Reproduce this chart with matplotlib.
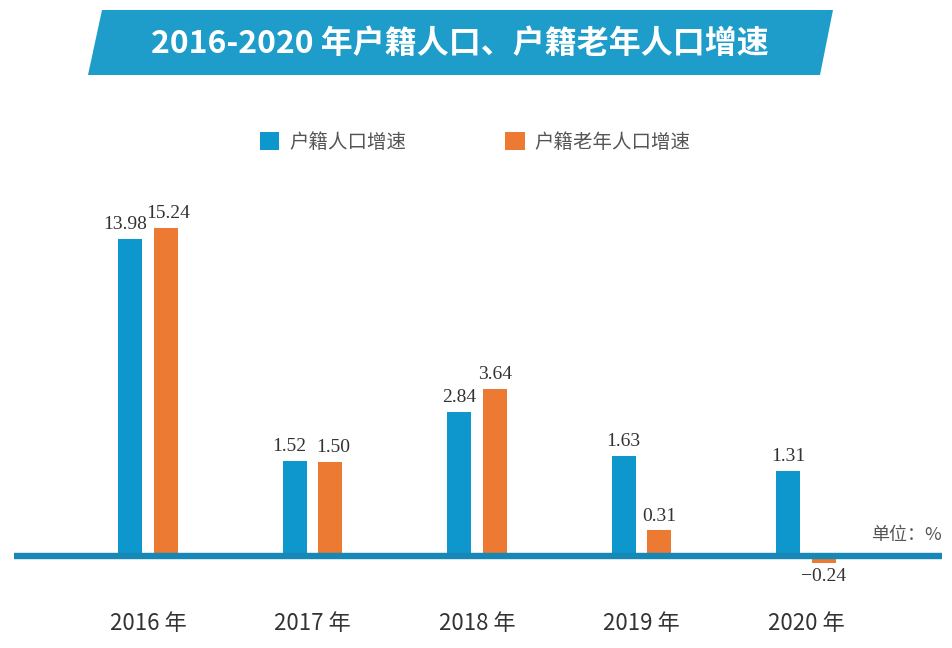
import numpy as np
import matplotlib
matplotlib.use("Agg")
import matplotlib.pyplot as plt
from matplotlib.patches import Polygon

plt.rcParams['font.family'] = ['Noto Sans CJK SC', 'DejaVu Sans']

# data
years = ["2016 年", "2017 年", "2018 年", "2019 年", "2020 年"]
hukou_growth = [13.98, 1.52, 2.84, 1.63, 1.31]
elderly_growth = [15.24, 1.50, 3.64, 0.31, -0.24]
series_names = ["户籍人口增速", "户籍老年人口增速"]
title = "2016-2020 年户籍人口、户籍老年人口增速"

BLUE = "#0E97CC"
ORANGE = "#EC7A32"
BANNER = "#1E9DCB"
BASE = "#1787B5"

W, H = 953, 648
fig = plt.figure(figsize=(W / 100, H / 100), dpi=100)


# the infographic is not drawn to a linear scale: compress large values
def fwd(v):
    v = np.asarray(v, dtype=float)
    return np.where(v >= 0, np.log1p(np.abs(v) / 1.5), 0.2 * v)


def inv(t):
    t = np.asarray(t, dtype=float)
    return np.where(t >= 0, 1.5 * np.expm1(np.abs(t)), t / 0.2)


# axes placement in pixels
left_px, right_px = 14, 942
top_px, bot_px = 180, 600
base_px = 556
px_per_unit = 136.0
ax = fig.add_axes([left_px / W, 1 - bot_px / H,
                   (right_px - left_px) / W, (bot_px - top_px) / H])
ax.set_yscale('function', functions=(fwd, inv))
ax.set_ylim(float(inv(-(bot_px - base_px) / px_per_unit)),
            float(inv((base_px - top_px) / px_per_unit)))

spacing = 164.5
ax.set_xlim((left_px - 148) / spacing, (right_px - 148) / spacing)

x = np.arange(len(years))
bw = 24 / spacing
off = 17.75 / spacing
b1 = ax.bar(x - off, hukou_growth, bw, color=BLUE, label=series_names[0], zorder=2)
b2 = ax.bar(x + off, elderly_growth, bw, color=ORANGE, label=series_names[1], zorder=2)

ax.axhline(0, color=BASE, lw=4.6, zorder=3)

num_font = dict(family='Liberation Serif', fontsize=14, color='#333333')
# small horizontal nudges (points) so neighbouring labels do not collide
blue_dx = [-4, -4, 0, 0, 0]
orange_dx = [2, 2, 0, 0, 0]
for xi, v, dx in zip(x - off, hukou_growth, blue_dx):
    ax.annotate(f"{v:.2f}", (xi, v), xytext=(dx, 4), textcoords='offset points',
                ha='center', va='bottom', **num_font)
for xi, v, dx in zip(x + off, elderly_growth, orange_dx):
    if v >= 0:
        ax.annotate(f"{v:.2f}", (xi, v), xytext=(dx, 4), textcoords='offset points',
                    ha='center', va='bottom', **num_font)
    else:
        ax.annotate(f"{v:.2f}".replace("-", "\u2212"), (xi, v), xytext=(dx, -4),
                    textcoords='offset points', ha='center', va='top', **num_font)

ax.set_xticks(x)
ax.set_xticklabels(years, fontsize=16, color='#333333')
ax.tick_params(axis='x', length=0, pad=9)
ax.set_yticks([])
ax.yaxis.set_minor_locator(matplotlib.ticker.NullLocator())
for s in ax.spines.values():
    s.set_visible(False)

fig.text(942 / W, 1 - 535 / H, "单位：%", fontsize=13, color='#555555',
         ha='right', va='center')

# legend
leg = fig.legend(handles=[b1, b2], loc='upper left',
                 bbox_to_anchor=(250 / W, 1 - 122 / H), ncol=2, frameon=False,
                 fontsize=14, handlelength=1.0, handleheight=1.0,
                 handletextpad=0.5, columnspacing=5.1, borderpad=0)
for t in leg.get_texts():
    t.set_color('#555555')

# title banner
pts = [(102, 10), (833, 10), (820, 75), (88, 75)]
fig.patches.append(Polygon([(px / W, 1 - py / H) for px, py in pts], closed=True,
                           transform=fig.transFigure, facecolor=BANNER,
                           edgecolor='none'))
fig.text(460 / W, 1 - 44 / H, title, ha='center', va='center', color='white',
         fontsize=23, fontweight='bold')

fig.savefig("out.png", dpi=100)
